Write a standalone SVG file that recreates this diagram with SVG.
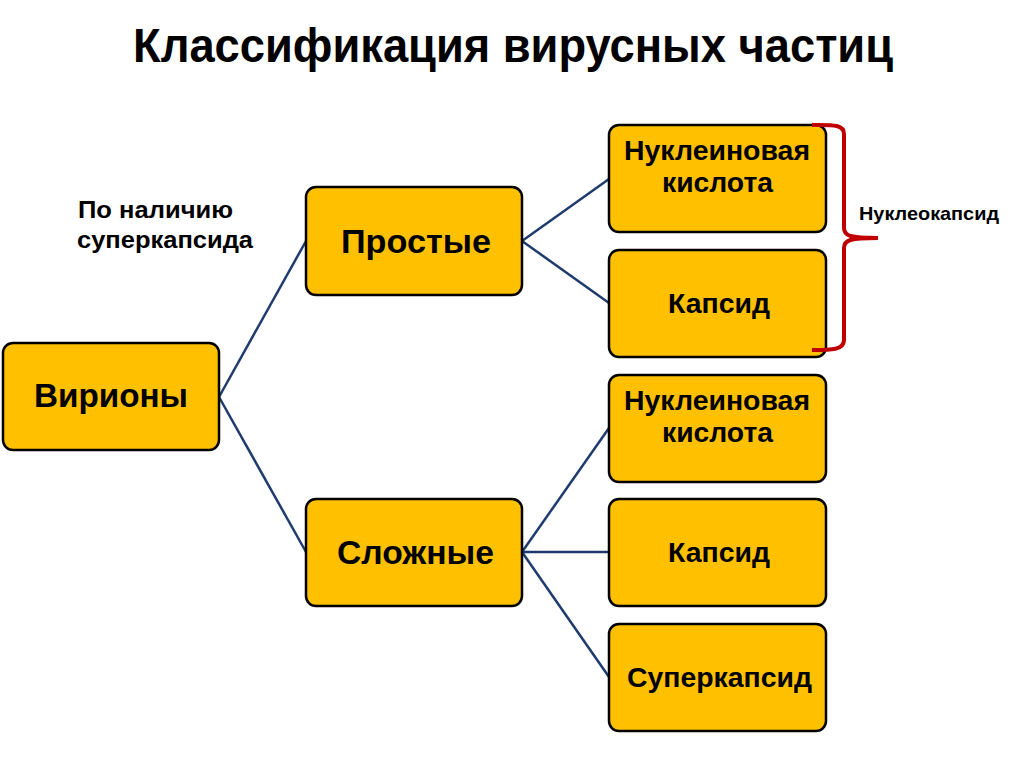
<svg xmlns="http://www.w3.org/2000/svg" width="1024" height="767" viewBox="0 0 1024 767">
<style>
.box{fill:#FFC000;stroke:#000;stroke-width:2.5}
.t{font-family:"Liberation Sans",Arial,sans-serif;font-weight:bold;fill:#000;text-anchor:middle}
.s{text-anchor:start}
.big{font-size:33px}
.mid{font-size:28px}
.con{stroke:#1F3B6E;stroke-width:2.5;fill:none}
</style>
<rect width="1024" height="767" fill="#fff"/>
<text class="t" x="513" y="62" font-size="48" textLength="760" lengthAdjust="spacingAndGlyphs">Классификация вирусных частиц</text>
<text class="t s" x="78" y="218" font-size="23" textLength="155" lengthAdjust="spacingAndGlyphs">По наличию</text>
<text class="t s" x="77" y="248" font-size="23" textLength="176" lengthAdjust="spacingAndGlyphs">суперкапсида</text>
<g id="connectors">
<line class="con" x1="219" y1="397" x2="306" y2="241"/>
<line class="con" x1="219" y1="397" x2="306" y2="552"/>
<line class="con" x1="522" y1="241" x2="609" y2="179"/>
<line class="con" x1="522" y1="241" x2="609" y2="303"/>
<line class="con" x1="522" y1="552" x2="609" y2="428"/>
<line class="con" x1="522" y1="552" x2="609" y2="552"/>
<line class="con" x1="522" y1="552" x2="609" y2="677"/>
</g>
<g id="virions"><rect class="box" x="3" y="343" width="216" height="107" rx="10"/><text class="t big" x="111" y="407" textLength="154" lengthAdjust="spacingAndGlyphs">Вирионы</text></g>
<g id="simple"><rect class="box" x="306" y="187" width="216" height="108" rx="10"/><text class="t big" x="416" y="253" textLength="150" lengthAdjust="spacingAndGlyphs">Простые</text></g>
<g id="complex"><rect class="box" x="306" y="499" width="216" height="107" rx="10"/><text class="t big" x="415.5" y="564" textLength="157" lengthAdjust="spacingAndGlyphs">Сложные</text></g>
<g id="nk1"><rect class="box" x="609" y="125" width="217" height="107" rx="10"/><text class="t mid" x="717" y="160" textLength="186" lengthAdjust="spacingAndGlyphs">Нуклеиновая</text><text class="t mid" x="717.5" y="192" textLength="111" lengthAdjust="spacingAndGlyphs">кислота</text></g>
<g id="cap1"><rect class="box" x="609" y="250" width="217" height="107" rx="10"/><text class="t mid" x="719" y="313" textLength="102" lengthAdjust="spacingAndGlyphs">Капсид</text></g>
<g id="nk2"><rect class="box" x="609" y="375" width="217" height="107" rx="10"/><text class="t mid" x="717" y="410" textLength="186" lengthAdjust="spacingAndGlyphs">Нуклеиновая</text><text class="t mid" x="717.5" y="442" textLength="111" lengthAdjust="spacingAndGlyphs">кислота</text></g>
<g id="cap2"><rect class="box" x="609" y="499" width="217" height="107" rx="10"/><text class="t mid" x="719" y="562" textLength="102" lengthAdjust="spacingAndGlyphs">Капсид</text></g>
<g id="super"><rect class="box" x="609" y="624" width="217" height="107" rx="10"/><text class="t mid" x="719.5" y="687" textLength="185" lengthAdjust="spacingAndGlyphs">Суперкапсид</text></g>
<g id="brace">
<path d="M812,125 C832,125 844,124 844,134 L844,228 C844,236 850,238 878,238 C850,238 844,240 844,248 L844,340 C844,350 832,350 812,350" fill="none" stroke="#C00000" stroke-width="4"/>
</g>
<text class="t" x="929" y="220" font-size="19" textLength="140" lengthAdjust="spacingAndGlyphs">Нуклеокапсид</text>
</svg>
